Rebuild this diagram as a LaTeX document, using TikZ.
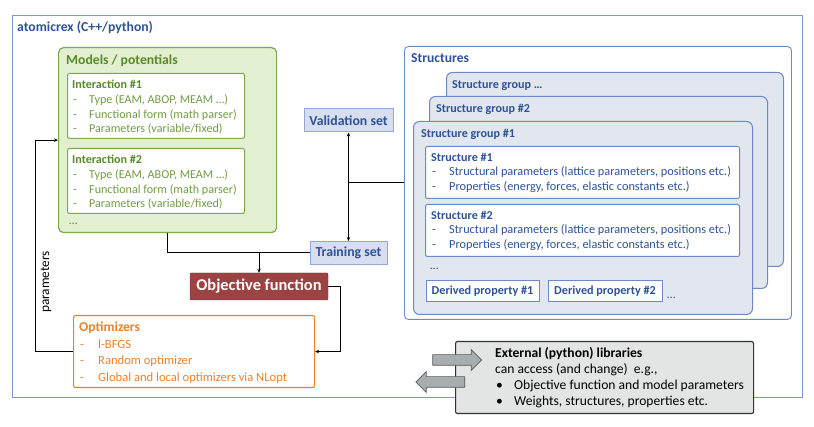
\documentclass[tikz,border=0pt]{standalone}
\usepackage{fontspec}
\setmainfont{Carlito}
\usepackage{xcolor}
\usepackage{tikz}
\usetikzlibrary{arrows.meta, shapes.arrows, positioning, calc}
\definecolor{frameblue}{RGB}{127, 150, 207}
\definecolor{textblue}{RGB}{47, 82, 150}
\definecolor{groupbg}{RGB}{225, 230, 239}
\definecolor{groupline}{RGB}{110, 138, 198}
\definecolor{setbg}{RGB}{214, 222, 240}
\definecolor{setline}{RGB}{143, 168, 216}
\definecolor{modelbg}{RGB}{226, 239, 208}
\definecolor{modelline}{RGB}{122, 171, 72}
\definecolor{modeltext}{RGB}{88, 138, 40}
\definecolor{objred}{RGB}{155, 66, 66}
\definecolor{optorange}{RGB}{236, 130, 44}
\definecolor{extbg}{RGB}{227, 229, 229}
\definecolor{arrowgray}{RGB}{168, 174, 175}
\newcommand{\dashitem}[1]{\makebox[16pt][l]{-}#1}
\newcommand{\bulletitem}[1]{\makebox[18pt][l]{\textbullet}#1}
\newcommand{\fs}[1]{\fontsize{#1}{#1}\selectfont}

\tikzset{
  box/.style={anchor=north west, inner sep=0pt, line width=0.9pt},
  line/.style={line width=1pt, black},
  arr/.style={line, -{Stealth[length=4pt, width=3.5pt]}},
  txt/.style={anchor=base west, inner sep=0pt, font=\fs{12.1}},
  ttl/.style={txt, font=\fs{12.1}\bfseries},
  setbox/.style={draw=setline, fill=setbg, line width=1pt, text=textblue,
    font=\fs{13.8}\bfseries, minimum width=#1, minimum height=23pt, inner sep=0pt},
  blockarrow/.style={single arrow, draw=black!65, fill=arrowgray, line width=0.7pt,
    single arrow head extend=5pt, minimum height=49pt, inner sep=0pt}
}

\begin{document}
\begin{tikzpicture}[x=1pt, y=-1pt]
  \useasboundingbox (0,0) rectangle (814,427);

  % atomicrex frame
  \node[box, draw=frameblue, minimum width=790pt, minimum height=382pt] (frame) at (12,15) {};
  \node[ttl, textblue, font=\fs{13.7}\bfseries] (frametitle) at (17,31.5) {atomicrex (C++/python)};

  % Models / potentials
  \node[box, draw=modelline, fill=modelbg, rounded corners=5pt, line width=1.2pt,
    minimum width=218pt, minimum height=185pt] (models) at (58,47) {};
  \node[ttl, modeltext, font=\fs{13.7}\bfseries] (modelstitle) at (66,65) {Models / potentials};
  \foreach \n/\y in {1/73, 2/148}{
    \node[box, draw=modelline, fill=white, rounded corners=2pt, line width=1pt,
      minimum width=177pt, minimum height=65pt] (inter\n) at (67,\y) {};
    \node[ttl, modeltext] at (72,\y+15.5) {Interaction \#\n};
    \foreach \t [count=\i] in {{Type (EAM, ABOP, MEAM \dots)}, {Functional form (math parser)}, {Parameters (variable/fixed)}}{
      \node[txt, modeltext!85] at (73,\y+15.5+\i*14.8) {\dashitem{\t}};
    }
  }
  \node[txt, modeltext] (moredots) at (69,225) {\dots};

  % Validation / training sets
  \node[setbox=89pt] (valid) at (348.5,120.5) {Validation set};
  \node[setbox=77pt] (train) at (348.5,253) {Training set};

  % Objective function
  \node[draw=objred!80!black, fill=objred, text=white, font=\fs{16.4}\bfseries,
    minimum width=138pt, minimum height=27pt, inner sep=0pt, rounded corners=1pt] (obj) at (259,286.5) {Objective function};

  % Optimizers
  \node[box, draw=optorange, fill=white, rounded corners=2pt, line width=1.1pt,
    minimum width=241pt, minimum height=72pt] (opt) at (73,315) {};
  \node[ttl, optorange, font=\fs{13.6}\bfseries] (opttitle) at (79,332) {Optimizers};
  \foreach \t [count=\i] in {l-BFGS, Random optimizer, Global and local optimizers via NLopt}{
    \node[txt, optorange, font=\fs{12.6}] at (80,332+\i*16.5) {\makebox[18pt][l]{-}\t};
  }

  % Structures
  \node[box, draw=groupline, fill=white, rounded corners=4pt,
    minimum width=387pt, minimum height=273pt] (structs) at (404,46) {};
  \node[ttl, textblue, font=\fs{13.6}\bfseries] (structstitle) at (411,63) {Structures};
  \foreach \n/\x/\y/\w/\h in {dots/446/72/337/194, 2/429/96/338/192, 1/413/121/339/193}{
    \node[box, draw=groupline, fill=groupbg, rounded corners=6pt, line width=1pt,
      minimum width=\w pt, minimum height=\h pt] (group\n) at (\x,\y) {};
  }
  \node[ttl, textblue] at (452,88.5) {Structure group \dots};
  \node[ttl, textblue] at (436,112.5) {Structure group \#2};
  \node[ttl, textblue] at (421,137.5) {Structure group \#1};
  \foreach \n/\y in {1/146, 2/204}{
    \node[box, draw=groupline, fill=white, rounded corners=2pt, line width=1pt,
      minimum width=314pt, minimum height=52pt] (struct\n) at (425,\y) {};
    \node[ttl, textblue] at (431,\y+15.5) {Structure \#\n};
    \node[txt, textblue, font=\fs{12.3}] at (432,\y+15.5+14.5) {\makebox[17pt][l]{-}Structural parameters (lattice parameters, positions etc.)};
    \node[txt, textblue, font=\fs{12.3}] at (432,\y+15.5+29) {\makebox[17pt][l]{-}Properties (energy, forces, elastic constants etc.)};
  }
  \node[txt, textblue] (structdots) at (430,270) {\dots};
  \node[draw=groupline, fill=white, line width=1pt, text=textblue, font=\fs{12.2}\bfseries,
    minimum width=113pt, minimum height=21pt, inner sep=0pt] (derived1) at (482.5,291.5) {Derived property \#1};
  \node[draw=groupline, fill=white, line width=1pt, text=textblue, font=\fs{12.2}\bfseries,
    minimum width=114pt, minimum height=21pt, inner sep=0pt, right=8pt of derived1] (derived2) {Derived property \#2};
  \node[txt, textblue] (deriveddots) at (667,299) {\dots};

  % Connectors
  \draw[line] (models.south) |- (train.west);
  \draw[arr] (obj.north |- train.west) -- (obj.north);
  \draw[line, {Stealth[length=4pt, width=3.5pt]}-{Stealth[length=4pt, width=3.5pt]}] (valid.south) -- (train.north);
  \draw[line] (structs.west) -- (structs.west -| valid.south);
  \draw[arr] (obj.east) -- ++(12,0) |- (opt.east);
  \draw[arr] (opt.west) -- ++(-38,0) |- (models.west);
  \node[rotate=90, font=\fs{13.3}, inner sep=0pt] (paramlabel) at (46,282) {parameters};

  % External libraries
  \node[box, draw=black!80, fill=extbg, rounded corners=2pt, line width=1.1pt,
    minimum width=298pt, minimum height=72pt] (ext) at (455,341) {};
  \node[ttl, black, font=\fs{13.6}\bfseries] (exttitle) at (495,357.5) {External (python) libraries};
  \node[txt, black, font=\fs{13.6}] (extsub) at (495,373.5) {can access (and change) \ e.g.,};
  \node[txt, black, font=\fs{13.6}] (extitem1) at (496,390) {\bulletitem{Objective function and model parameters}};
  \node[txt, black, font=\fs{13.6}] (extitem2) at (496,406) {\bulletitem{Weights, structures, properties etc.}};
  \node[blockarrow] (arrowin) at (454.5,360) {\rule{0pt}{10pt}};
  \node[blockarrow, shape border rotate=180] (arrowout) at (443,382) {\rule{0pt}{10pt}};
\end{tikzpicture}
\end{document}
